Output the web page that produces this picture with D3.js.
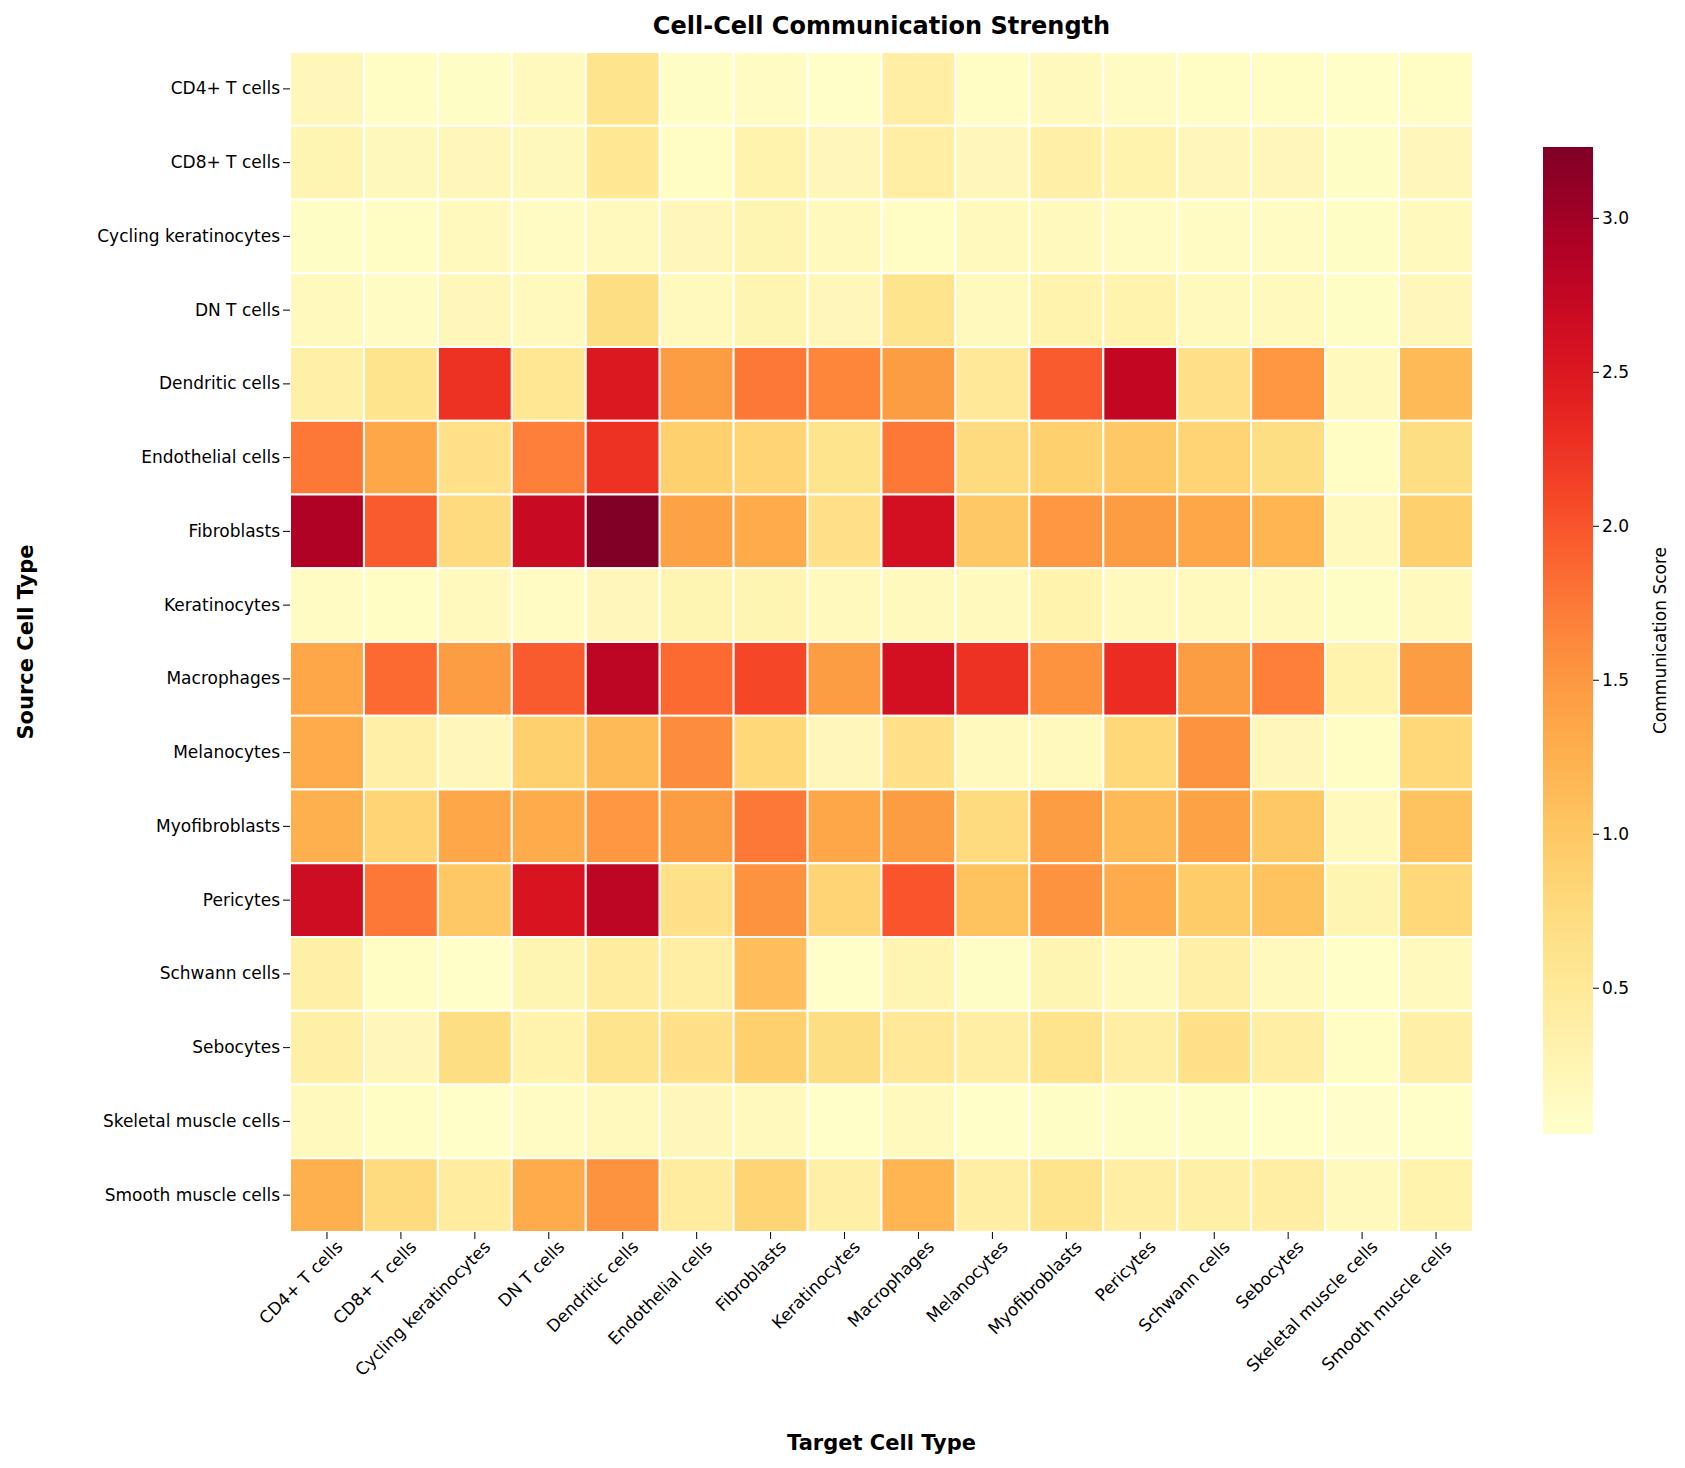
<!DOCTYPE html>
<html>
<head>
<meta charset="utf-8">
<script src="https://cdn.jsdelivr.net/npm/d3@7"></script>
<style>
  body { margin: 0; background: #fff; }
  text { font-family: "DejaVu Sans", sans-serif; }
</style>
</head>
<body>
<svg id="chart" width="1685" height="1468"></svg>
<script>
const cellTypes = ["CD4+ T cells", "CD8+ T cells", "Cycling keratinocytes", "DN T cells",
  "Dendritic cells", "Endothelial cells", "Fibroblasts", "Keratinocytes", "Macrophages",
  "Melanocytes", "Myofibroblasts", "Pericytes", "Schwann cells", "Sebocytes",
  "Skeletal muscle cells", "Smooth muscle cells"];

// rows = source, columns = target
const scores = [
  [0.20,0.10,0.08,0.15,0.60,0.08,0.12,0.06,0.40,0.10,0.15,0.12,0.10,0.10,0.05,0.10],
  [0.25,0.18,0.20,0.18,0.55,0.10,0.30,0.20,0.40,0.20,0.35,0.30,0.20,0.20,0.08,0.20],
  [0.08,0.10,0.15,0.12,0.15,0.20,0.25,0.15,0.10,0.15,0.15,0.12,0.12,0.12,0.08,0.15],
  [0.15,0.12,0.20,0.15,0.70,0.15,0.25,0.20,0.60,0.15,0.30,0.30,0.15,0.15,0.08,0.20],
  [0.35,0.60,2.25,0.55,2.50,1.45,1.75,1.65,1.45,0.50,1.95,2.75,0.65,1.50,0.15,1.15],
  [1.75,1.35,0.65,1.70,2.25,0.90,0.85,0.60,1.75,0.75,0.90,1.00,0.85,0.70,0.10,0.70],
  [2.90,1.95,0.75,2.70,3.23,1.40,1.30,0.65,2.60,1.00,1.50,1.45,1.35,1.20,0.15,0.90],
  [0.12,0.10,0.15,0.12,0.20,0.25,0.25,0.15,0.15,0.15,0.30,0.15,0.15,0.15,0.08,0.15],
  [1.35,1.85,1.45,1.95,2.80,1.85,2.10,1.45,2.60,2.25,1.55,2.30,1.45,1.70,0.30,1.45],
  [1.30,0.35,0.20,0.90,1.15,1.60,0.80,0.20,0.65,0.15,0.15,0.80,1.55,0.20,0.10,0.80],
  [1.25,0.85,1.35,1.30,1.50,1.45,1.75,1.35,1.45,0.75,1.45,1.15,1.40,1.00,0.15,1.05],
  [2.65,1.75,1.00,2.55,2.80,0.65,1.55,0.85,2.00,1.05,1.55,1.30,0.95,1.05,0.25,0.80],
  [0.35,0.10,0.05,0.25,0.45,0.40,1.10,0.05,0.25,0.08,0.25,0.15,0.35,0.15,0.06,0.15],
  [0.35,0.20,0.70,0.30,0.60,0.65,0.90,0.70,0.50,0.40,0.60,0.40,0.65,0.40,0.10,0.35],
  [0.15,0.10,0.05,0.12,0.15,0.20,0.15,0.06,0.15,0.06,0.08,0.08,0.08,0.06,0.04,0.06],
  [1.25,0.75,0.45,1.30,1.55,0.45,0.85,0.35,1.20,0.40,0.60,0.40,0.35,0.40,0.15,0.30]
];
const colorTicks = [0.5, 1.0, 1.5, 2.0, 2.5, 3.0];
const vMin = 0.025, vMax = 3.23;

const svg = d3.select("#chart");
const plotLeft = 290, plotTop = 52, w = 1183, h = 1180;

const x = d3.scaleBand().domain(cellTypes).range([plotLeft, plotLeft + w]);
const y = d3.scaleBand().domain(cellTypes).range([plotTop, plotTop + h]);
const color = d3.scaleSequential(d3.interpolateYlOrRd).domain([vMin, vMax]);

const cells = [];
scores.forEach((row, i) => row.forEach((v, j) => cells.push({ s: cellTypes[i], t: cellTypes[j], v })));

svg.append("g").selectAll("rect").data(cells).join("rect")
  .attr("x", d => x(d.t)).attr("y", d => y(d.s))
  .attr("width", x.bandwidth()).attr("height", y.bandwidth())
  .attr("fill", d => color(d.v))
  .attr("stroke", "#fff").attr("stroke-width", 2);

const xAxis = svg.append("g").attr("transform", `translate(0,${plotTop + h})`)
  .call(d3.axisBottom(x).tickSize(7));
xAxis.select(".domain").remove();
xAxis.selectAll("text").attr("font-size", 17).attr("text-anchor", "end")
  .attr("transform", "translate(0,4) rotate(-45)").attr("dx", "0.2em").attr("dy", "0.6em");

const yAxis = svg.append("g").attr("transform", `translate(${plotLeft},0)`)
  .call(d3.axisLeft(y).tickSize(7));
yAxis.select(".domain").remove();
yAxis.selectAll("text").attr("font-size", 17);

svg.append("text").attr("x", plotLeft + w / 2).attr("y", 34).attr("text-anchor", "middle")
  .attr("font-size", 24).attr("font-weight", "bold").text("Cell-Cell Communication Strength");
svg.append("text").attr("x", plotLeft + w / 2).attr("y", 1450).attr("text-anchor", "middle")
  .attr("font-size", 21).attr("font-weight", "bold").text("Target Cell Type");
svg.append("text").attr("transform", `translate(33,${plotTop + h / 2}) rotate(-90)`)
  .attr("text-anchor", "middle").attr("font-size", 21).attr("font-weight", "bold").text("Source Cell Type");

// colorbar
const cbX = 1543, cbW = 50, cbTop = 147, cbBot = 1134;
const cy = d3.scaleLinear().domain([vMin, vMax]).range([cbBot, cbTop]);
const grad = svg.append("defs").append("linearGradient").attr("id", "cb")
  .attr("x1", 0).attr("y1", 1).attr("x2", 0).attr("y2", 0);
d3.range(0, 1.001, 0.05).forEach(t => grad.append("stop")
  .attr("offset", t).attr("stop-color", d3.interpolateYlOrRd(t)));
svg.append("rect").attr("x", cbX).attr("y", cbTop).attr("width", cbW).attr("height", cbBot - cbTop)
  .attr("fill", "url(#cb)");
const cbAxis = svg.append("g").attr("transform", `translate(${cbX + cbW},0)`)
  .call(d3.axisRight(cy).tickValues(colorTicks).tickFormat(d3.format(".1f")).tickSize(6));
cbAxis.select(".domain").remove();
cbAxis.selectAll("text").attr("font-size", 17);
svg.append("text").attr("transform", `translate(1666,${(cbTop + cbBot) / 2}) rotate(-90)`)
  .attr("text-anchor", "middle").attr("font-size", 17).text("Communication Score");
</script>
</body>
</html>
